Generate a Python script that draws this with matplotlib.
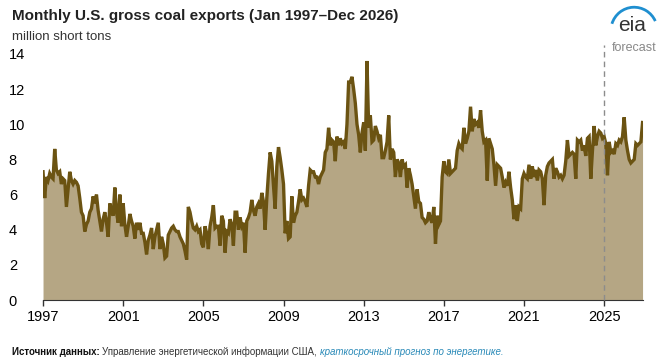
import numpy as np
import matplotlib.pyplot as plt
from matplotlib.patches import Arc

plt.rcParams['font.family'] = ['Liberation Sans', 'DejaVu Sans']

# Exportations mensuelles (millions de tonnes courtes), une liste par année
y1997 = [7.3, 5.8, 7.0, 6.8, 7.2, 7.0, 6.9, 8.6, 7.4, 7.2, 7.3, 6.6]
y1998 = [6.9, 6.8, 5.3, 6.3, 7.3, 6.8, 6.6, 6.8, 6.7, 6.5, 5.8, 5.0]
y1999 = [4.8, 3.9, 4.3, 4.5, 5.0, 5.2, 5.9, 5.5, 6.0, 5.1, 4.5, 3.9]
y2000 = [4.6, 5.0, 4.4, 3.6, 5.5, 5.1, 4.8, 6.4, 5.0, 4.4, 6.0, 4.2]
y2001 = [5.5, 4.3, 3.6, 4.2, 4.9, 4.5, 4.2, 3.5, 4.4, 4.0, 4.4, 3.8]
y2002 = [3.8, 3.3, 2.6, 3.4, 3.7, 4.1, 2.9, 3.6, 4.0, 4.4, 2.9, 3.6]
y2003 = [3.2, 2.4, 2.5, 3.7, 3.9, 4.1, 4.2, 4.0, 3.9, 3.9, 3.6, 3.4]
y2004 = [3.2, 2.8, 2.3, 5.3, 5.0, 4.5, 4.1, 4.0, 4.2, 3.9, 4.0, 3.2]
y2005 = [3.0, 4.2, 3.8, 2.9, 4.2, 4.7, 5.4, 4.1, 4.2, 4.2, 3.1, 4.8]
y2006 = [4.5, 2.7, 3.9, 3.8, 4.6, 4.3, 3.1, 5.0, 5.0, 4.0, 4.7, 4.2]
y2007 = [4.4, 2.7, 4.5, 4.7, 5.0, 5.7, 5.1, 4.8, 5.3, 5.5, 5.2, 6.1]
y2008 = [5.6, 4.0, 5.8, 7.2, 8.4, 7.9, 6.5, 5.2, 7.6, 8.7, 8.1, 7.4]
y2009 = [6.6, 3.8, 4.5, 3.5, 3.6, 5.9, 4.4, 4.8, 5.0, 5.6, 6.3, 5.7]
y2010 = [5.8, 5.6, 5.3, 6.5, 7.4, 7.3, 7.3, 7.0, 7.0, 6.6, 7.0, 7.2]
y2011 = [7.4, 8.4, 8.6, 9.8, 8.8, 9.1, 9.0, 7.9, 9.3, 8.8, 9.2, 8.9]
y2012 = [9.0, 8.6, 10.0, 12.4, 12.4, 12.7, 12.0, 11.2, 10.0, 9.4, 8.4, 9.5]
y2013 = [10.1, 8.5, 13.6, 9.8, 10.5, 9.0, 9.1, 9.9, 9.6, 9.2, 9.4, 8.1]
y2014 = [8.1, 8.5, 9.0, 10.5, 8.0, 8.6, 8.4, 7.0, 8.0, 7.8, 7.0, 8.0]
y2015 = [7.6, 7.7, 6.4, 7.5, 7.1, 6.6, 5.9, 5.2, 6.3, 5.6, 5.5, 4.7]
y2016 = [4.6, 4.4, 4.5, 5.0, 4.6, 4.4, 5.3, 3.2, 4.8, 4.3, 4.5, 7.0]
y2017 = [7.9, 7.3, 7.2, 8.0, 7.2, 7.3, 7.4, 7.5, 8.5, 8.9, 8.7, 8.6]
y2018 = [9.8, 8.9, 9.2, 9.6, 11.0, 9.6, 10.3, 10.0, 10.1, 9.8, 10.8, 9.6]
y2019 = [9.0, 9.1, 6.8, 9.2, 8.9, 8.6, 7.7, 6.5, 7.7, 7.6, 7.5, 7.0]
y2020 = [6.4, 6.7, 6.5, 7.3, 6.4, 5.7, 4.6, 5.4, 4.5, 5.3, 5.2, 6.9]
y2021 = [7.2, 7.0, 6.9, 7.7, 6.9, 7.6, 7.0, 7.4, 6.8, 7.4, 7.3, 6.9]
y2022 = [5.4, 7.1, 7.6, 7.8, 7.9, 8.0, 6.9, 7.5, 7.3, 7.0, 7.1, 6.9]
y2023 = [7.1, 7.9, 9.1, 8.2, 8.3, 8.4, 8.3, 6.9, 9.1, 9.0, 9.1, 8.5]
y2024 = [8.8, 8.2, 9.2, 9.3, 6.9, 8.5, 9.9, 8.8, 9.3, 9.6, 9.5, 9.2]
y2025 = [9.3, 8.9, 7.1, 9.0, 8.4, 8.5, 8.3, 8.9, 8.8, 9.1, 9.0, 9.3]
y2026 = [10.4, 9.1, 8.5, 8.0, 7.8, 7.9, 8.0, 8.9, 8.8, 8.9, 9.0, 10.1]

annees = [y1997, y1998, y1999, y2000, y2001, y2002, y2003, y2004, y2005, y2006,
          y2007, y2008, y2009, y2010, y2011, y2012, y2013, y2014, y2015, y2016,
          y2017, y2018, y2019, y2020, y2021, y2022, y2023, y2024, y2025, y2026]
valeurs = np.concatenate(annees)
t = 1997 + np.arange(len(valeurs)) / 12

ticks = [1997, 2001, 2005, 2009, 2013, 2017, 2021, 2025]
debut_prevision = 2025

fig = plt.figure(figsize=(6.64, 3.62), dpi=100)
ax = fig.add_axes([0.0648, 0.171, 0.9029, 0.680])

ax.fill_between(t, valeurs, color='#b5a684', lw=0)
ax.plot(t, valeurs, color='#6b5312', lw=2.4, solid_joinstyle='miter')

ax.plot([debut_prevision, debut_prevision], [0, 14.5], color='#8c8c8c', lw=1,
        ls=(0, (4, 3)), clip_on=False, zorder=3)

ax.set_xlim(t[0], t[-1])
ax.set_ylim(0, 14)
ax.set_xticks(ticks)
ax.set_yticks(range(0, 15, 2))
ax.tick_params(axis='x', length=4, width=1, color='#333333', labelsize=10.5, pad=3)
ax.tick_params(axis='y', length=0, labelsize=10.5, pad=0)
for lab in ax.get_yticklabels():
    lab.set_horizontalalignment('left')
    lab.set_x(-0.057)
for s in ['top', 'right', 'left']:
    ax.spines[s].set_visible(False)
ax.spines['bottom'].set_color('#333333')

fig.text(0.018, 0.955, 'Monthly U.S. gross coal exports (Jan 1997\u2013Dec 2026)',
         fontsize=11, fontweight='bold', color='#222222', va='center')
fig.text(0.018, 0.898, 'million short tons', fontsize=9.5, color='#333333', va='center')

# logo eia et mention prévision
fig.text(0.952, 0.93, 'eia', fontsize=15, color='#333333', ha='center', va='center')
arc = Arc((0.955, 0.915), 0.07, 0.13, theta1=40, theta2=150, color='#1f8fd0', lw=2,
          transform=fig.transFigure)
fig.add_artist(arc)
fig.text(0.955, 0.868, 'forecast', fontsize=9, color='#888888', ha='center', va='center')

# source : trois morceaux posés l'un après l'autre
fig.canvas.draw()
rend = fig.canvas.get_renderer()
x = 0.018
morceaux = [('Источник данных: ', dict(fontweight='bold', color='#111111')),
            ('Управление энергетической информации США, ', dict(color='#333333')),
            ('краткосрочный прогноз по энергетике.', dict(style='italic', color='#2a8ab8'))]
for txt, kw in morceaux:
    tt = fig.text(x, 0.028, txt, fontsize=7, va='center', **kw)
    bb = tt.get_window_extent(rend)
    x += bb.width / fig.bbox.width

plt.savefig('out.png', dpi=100)
